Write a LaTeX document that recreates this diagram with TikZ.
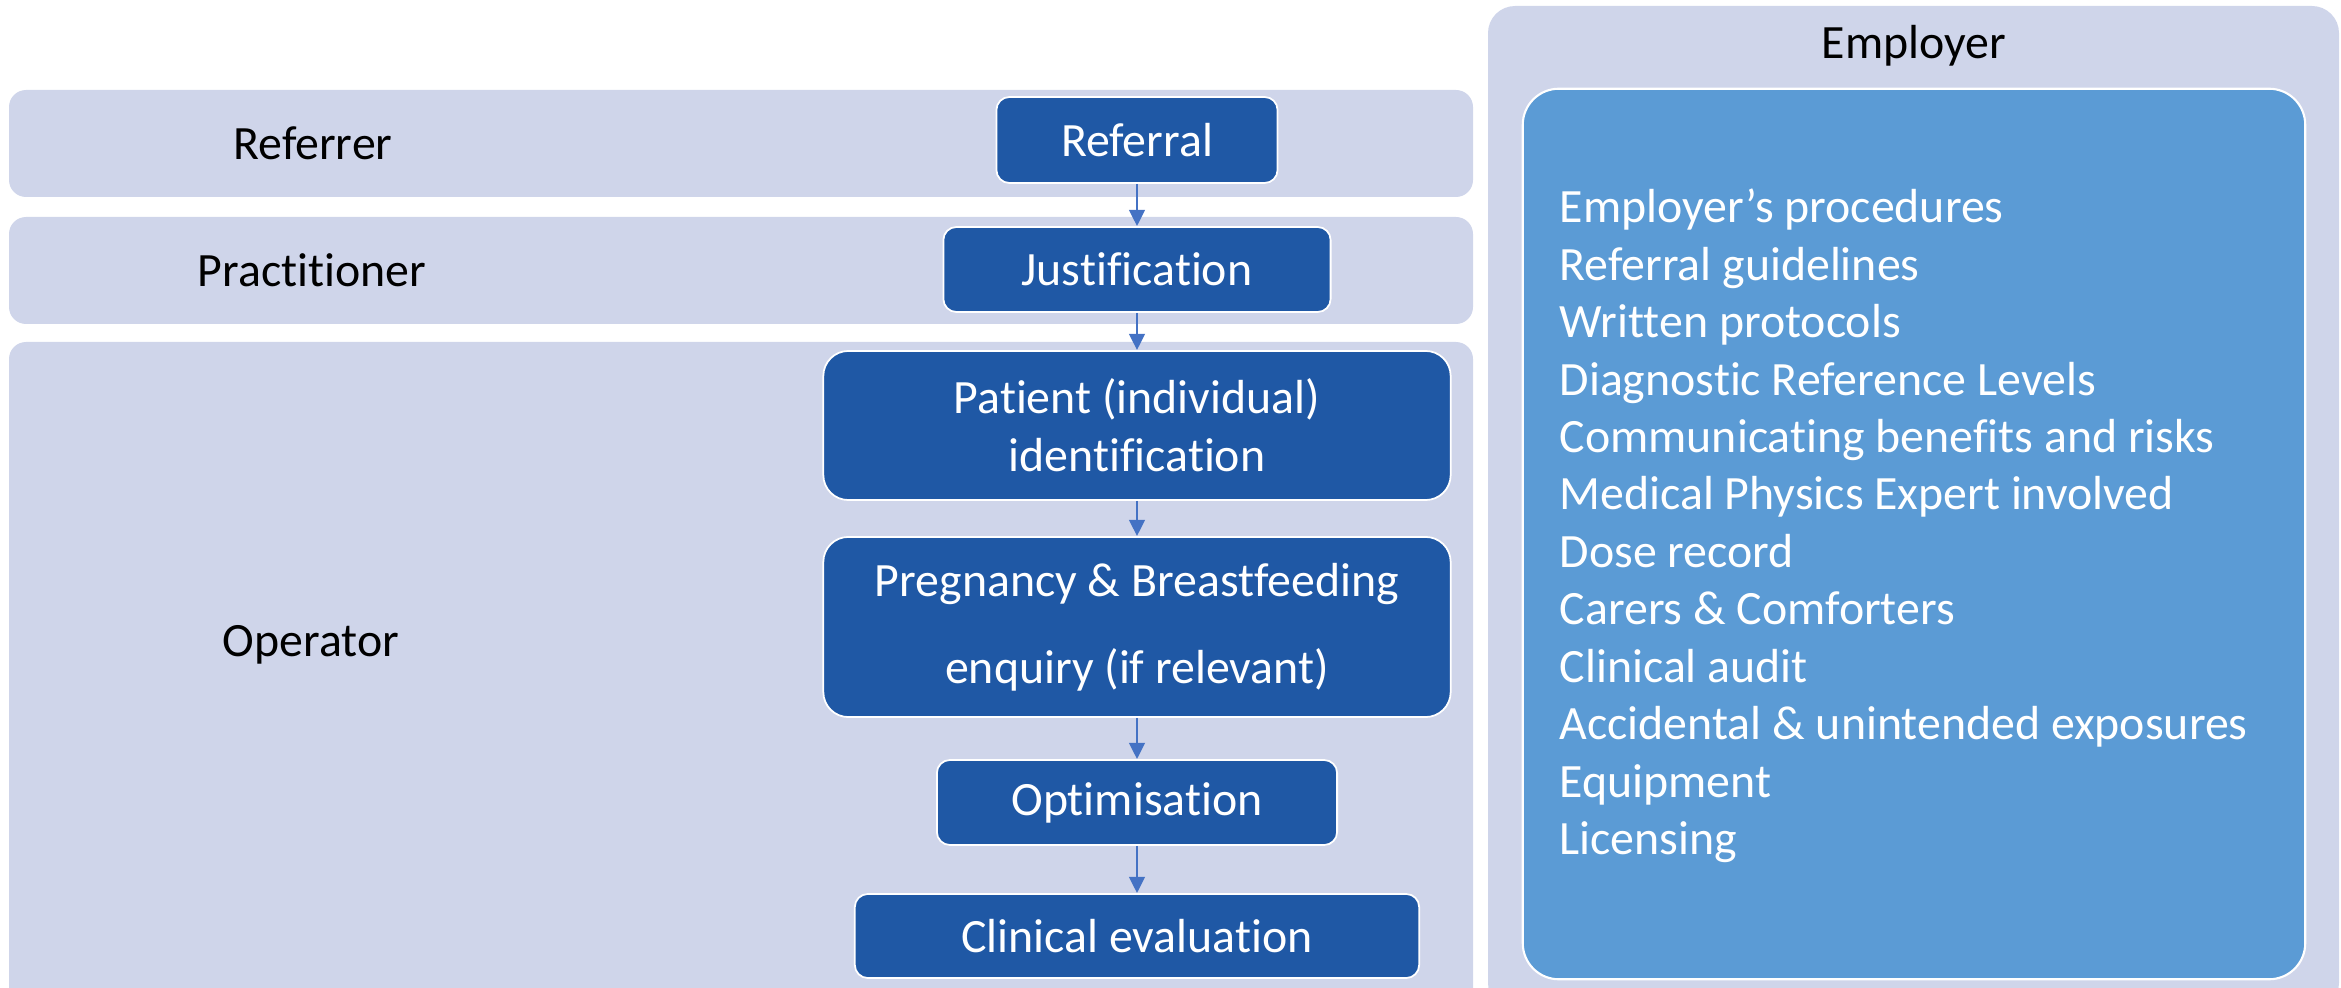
\documentclass[tikz,border=0pt]{standalone}
\usepackage{fontspec}
\setmainfont{Carlito}[Ligatures=NoCommon]
\usetikzlibrary{arrows.meta}
\definecolor{lanefill}{HTML}{CFD5EA}
\definecolor{stepfill}{HTML}{1F58A5}
\definecolor{dutyfill}{HTML}{5B9BD5}
\definecolor{flowline}{HTML}{4472C4}
\tikzset{
  lane/.style={fill=lanefill, draw=none, rounded corners=0.17cm},
  lanelabel/.style={text=black, inner sep=0pt},
  stepbox/.style={fill=stepfill, draw=white, line width=0.5pt, text=white,
    rounded corners=0.13cm, align=center, inner sep=0pt},
  bigstep/.style={stepbox, rounded corners=0.25cm},
  flow/.style={draw=flowline, line width=0.75pt,
    -{Triangle[length=4.6pt, width=4.4pt]}},
  duty/.style={text=white, anchor=base west, inner sep=0pt},
}
\begin{document}
\begin{tikzpicture}[x=0.01cm, y=-0.01cm,
  every node/.style={font=\fontsize{13.6pt}{16.3pt}\selectfont}]
\useasboundingbox (0,0) rectangle (2341,988);

% swim lanes
\fill[lane] (9,90) rectangle (1473,197);
\fill[lane] (9,217) rectangle (1473,324);
\fill[lane] (9,342) rectangle (1473,1010);

\node[lanelabel] (referrer) at (313,143) {Referrer};
\node[lanelabel] (practitioner) at (312,270) {Practitioner};
\node[lanelabel] (operator) at (311,645) {Operator};

% employer panel
\fill[lanefill, rounded corners=0.27cm] (1488,6) rectangle (2339,1010);
\node[lanelabel] (employer) at (1914,46) {Employer};
\node[fill=dutyfill, draw=white, line width=0.6pt, rounded corners=0.36cm,
  minimum width=7.82cm, minimum height=8.90cm, inner sep=0pt]
  (duties) at (1914,534) {};

\foreach \t [count=\i from 0] in {Employer’s procedures, Referral guidelines,
  Written protocols, Diagnostic Reference Levels,
  Communicating benefits and risks, Medical Physics Expert involved,
  Dose record, Carers \& Comforters, Clinical audit,
  Accidental \& unintended exposures, Equipment, Licensing}
  \node[duty] (duty\i) at (1559,{223+57.4*\i}) {\t};

% process steps
\node[stepbox, minimum width=2.81cm, minimum height=0.86cm]
  (referral) at (1137,140) {Referral};
\node[stepbox, minimum width=3.87cm, minimum height=0.85cm]
  (justification) at (1137,269.5) {Justification};
\node[bigstep, minimum width=6.27cm, minimum height=1.49cm,
  font=\fontsize{13.6pt}{16.5pt}\selectfont]
  (identification) at (1137,425.5) {Patient (individual)\\identification};
\node[bigstep, minimum width=6.27cm, minimum height=1.80cm,
  font=\fontsize{13.6pt}{24.7pt}\selectfont]
  (pregnancy) at (1137,627) {Pregnancy \& Breastfeeding\\enquiry (if relevant)};
\node[stepbox, minimum width=4.00cm, minimum height=0.85cm]
  (optimisation) at (1137,802.5) {Optimisation};
\node[stepbox, minimum width=5.64cm, minimum height=0.84cm]
  (evaluation) at (1137,936) {Clinical evaluation};

% connectors
\draw[flow] (referral) -- (justification);
\draw[flow] (justification) -- (identification);
\draw[flow] (identification) -- (pregnancy);
\draw[flow] (pregnancy) -- (optimisation);
\draw[flow] (optimisation) -- (evaluation);
\end{tikzpicture}
\end{document}
